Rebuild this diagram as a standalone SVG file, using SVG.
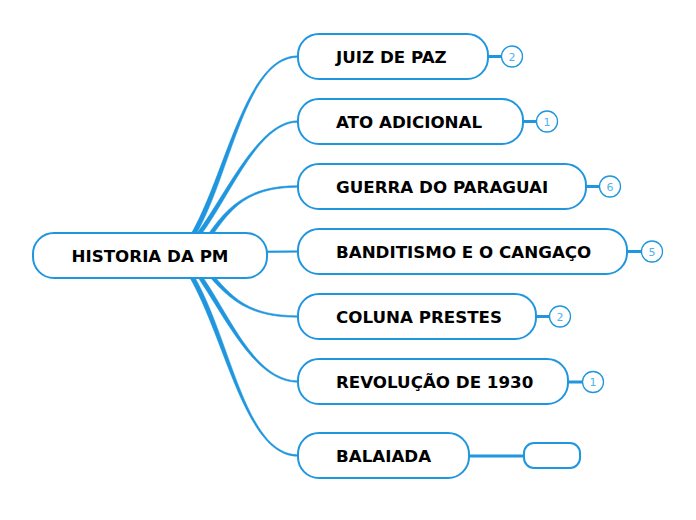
<svg xmlns="http://www.w3.org/2000/svg" width="696" height="520" viewBox="0 0 696 520">
<style>
.node{fill:#fff;stroke:#1f96dd;stroke-width:2}
.t{font-family:"DejaVu Sans",Verdana,sans-serif;font-weight:bold;font-size:16.7px;fill:#000}
.conn{fill:#1f96dd;stroke:#1f96dd;stroke-width:0.6}
.stub{stroke:#1f96dd;stroke-width:3;fill:none}
.badge{fill:#fff;stroke:#1f96dd;stroke-width:1.3}
.bt{font-family:"DejaVu Sans",Verdana,sans-serif;font-size:11px;fill:#56b1ea;text-anchor:middle}
</style>
<rect width="696" height="520" fill="#fff"/>
<g id="connectors">
<path class="conn" d="M190,236 C226,175 245,55.5 298,55.8 L298,57.2 C245,57.5 231,175 195,236 Z"/>
<path class="conn" d="M195,236 C226,195 258,120.5 298,120.8 L298,122.2 C258,122.5 231,195 200,236 Z"/>
<path class="conn" d="M207,236 C228,205 250,185.5 298,185.8 L298,187.2 C250,187.5 233,205 212,236 Z"/>
<path class="conn" d="M267,251 L298,250.8 L298,252.2 L267,252.5 Z"/>
<path class="conn" d="M209,276 C230,300 250,317.5 298,317.2 L298,315.8 C250,315.5 235,300 214,276 Z"/>
<path class="conn" d="M197,276 C226,318 255,382.5 298,382.2 L298,380.8 C255,380.5 231,318 202,276 Z"/>
<path class="conn" d="M189,276 C226,340 245,456.5 298,456.2 L298,454.8 C245,454.5 231,340 194,276 Z"/>
<line class="stub" x1="488" y1="56.5" x2="502" y2="56.5"/>
<line class="stub" x1="523" y1="121.5" x2="537" y2="121.5"/>
<line class="stub" x1="586" y1="186.5" x2="600" y2="186.5"/>
<line class="stub" x1="627" y1="251.5" x2="642" y2="251.5"/>
<line class="stub" x1="536" y1="316.5" x2="550" y2="316.5"/>
<line class="stub" x1="568" y1="382" x2="583" y2="382"/>
<line class="stub" x1="469" y1="456" x2="524" y2="456"/>
</g>
<g id="root">
<rect class="node" x="33" y="233" width="234" height="45" rx="21"/>
<text class="t" x="150" y="262" text-anchor="middle">HISTORIA DA PM</text>
</g>
<g id="n1">
<rect class="node" x="298" y="34" width="190" height="45" rx="21"/>
<text class="t" x="336" y="62.5">JUIZ DE PAZ</text>
<circle class="badge" cx="512" cy="56.5" r="10.5"/>
<text class="bt" x="512" y="60.5">2</text>
</g>
<g id="n2">
<rect class="node" x="298" y="99" width="225" height="45" rx="21"/>
<text class="t" x="336" y="127.5">ATO ADICIONAL</text>
<circle class="badge" cx="547" cy="121.5" r="10.5"/>
<text class="bt" x="547" y="125.5">1</text>
</g>
<g id="n3">
<rect class="node" x="298" y="164" width="288" height="45" rx="21"/>
<text class="t" x="336" y="192.5">GUERRA DO PARAGUAI</text>
<circle class="badge" cx="610" cy="186.5" r="10.5"/>
<text class="bt" x="610" y="190.5">6</text>
</g>
<g id="n4">
<rect class="node" x="298" y="229" width="329" height="45" rx="21"/>
<text class="t" x="336" y="257.5">BANDITISMO E O CANGAÇO</text>
<circle class="badge" cx="652" cy="251.5" r="10.5"/>
<text class="bt" x="652" y="255.5">5</text>
</g>
<g id="n5">
<rect class="node" x="298" y="294" width="238" height="45" rx="21"/>
<text class="t" x="336" y="322.5">COLUNA PRESTES</text>
<circle class="badge" cx="560" cy="316.5" r="10.5"/>
<text class="bt" x="560" y="320.5">2</text>
</g>
<g id="n6">
<rect class="node" x="298" y="359" width="270" height="45" rx="21"/>
<text class="t" x="336" y="387.5">REVOLUÇÃO DE 1930</text>
<circle class="badge" cx="593" cy="382" r="10.5"/>
<text class="bt" x="593" y="386">1</text>
</g>
<g id="n7">
<rect class="node" x="298" y="433" width="171" height="45" rx="21"/>
<text class="t" x="336" y="461.5">BALAIADA</text>
</g>
<g id="n8">
<rect class="node" x="524" y="443" width="56" height="25" rx="10"/>
</g>
</svg>
